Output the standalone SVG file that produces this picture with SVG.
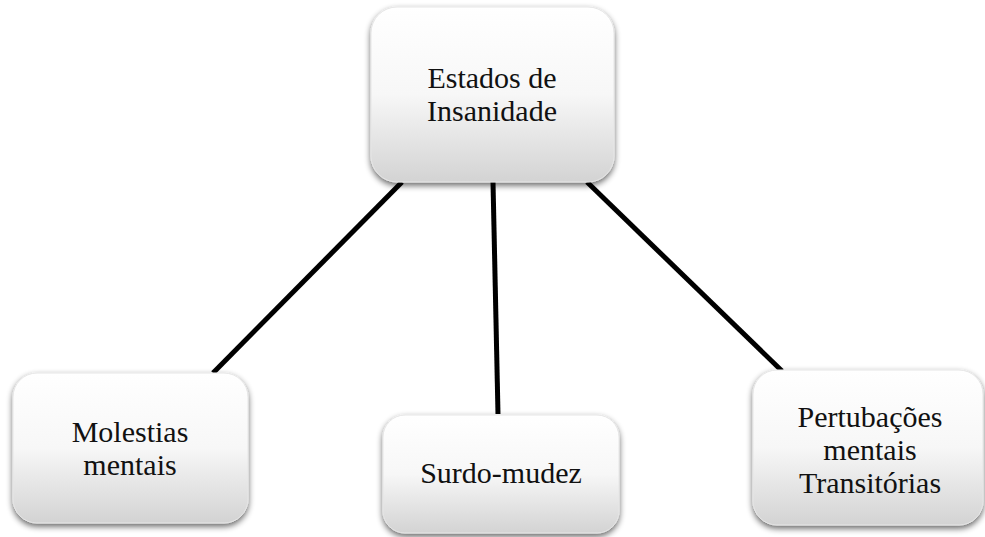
<svg xmlns="http://www.w3.org/2000/svg" width="985" height="537" viewBox="0 0 985 537">
<style>
.box{fill:url(#g);filter:url(#sh);stroke:#e6e6e6;stroke-width:1}
.t{font-family:"Liberation Serif","Times New Roman",serif;font-size:30px;fill:#111;text-anchor:middle}
.c{stroke:#000;stroke-width:5;fill:none}
</style>
<defs>
<linearGradient id="g" x1="0" y1="0" x2="0" y2="1">
<stop offset="0" stop-color="#ffffff"/>
<stop offset="0.5" stop-color="#f7f7f7"/>
<stop offset="1" stop-color="#d3d3d3"/>
</linearGradient>
<filter id="sh" x="-10%" y="-10%" width="125%" height="130%">
<feGaussianBlur in="SourceAlpha" stdDeviation="3"/>
<feOffset dx="0" dy="3" result="b"/>
<feComponentTransfer><feFuncA type="linear" slope="0.6"/></feComponentTransfer>
<feMerge><feMergeNode/><feMergeNode in="SourceGraphic"/></feMerge>
</filter>
</defs>
<g id="connectors">
<line class="c" x1="402" y1="182" x2="213" y2="373"/>
<line class="c" x1="493" y1="182" x2="498" y2="414"/>
<line class="c" x1="587" y1="182" x2="782" y2="371"/>
</g>
<g id="n-top">
<rect class="box" x="371" y="7" width="243" height="175" rx="26"/>
<text class="t" x="492" y="88">Estados de</text>
<text class="t" x="492" y="121">Insanidade</text>
</g>
<g id="n-molestias">
<rect class="box" x="13" y="373" width="235" height="150" rx="24"/>
<text class="t" x="130" y="442">Molestias</text>
<text class="t" x="130" y="475">mentais</text>
</g>
<g id="n-surdo">
<rect class="box" x="383" y="415" width="236" height="118" rx="22"/>
<text class="t" x="501" y="483">Surdo-mudez</text>
</g>
<g id="n-pert">
<rect class="box" x="753" y="370" width="230" height="155" rx="24"/>
<text class="t" x="870" y="427">Pertubações</text>
<text class="t" x="870" y="460">mentais</text>
<text class="t" x="870" y="493">Transitórias</text>
</g>
</svg>
